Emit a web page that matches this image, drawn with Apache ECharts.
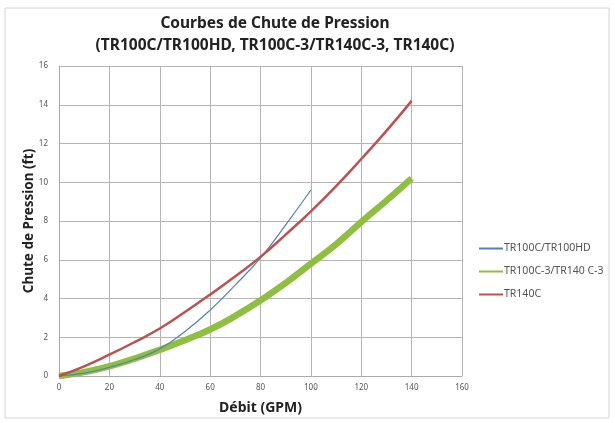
<!DOCTYPE html>
<html>
<head>
<meta charset="utf-8">
<script src="https://cdn.jsdelivr.net/npm/echarts@6/dist/echarts.min.js"></script>
<style>
  html, body { margin: 0; padding: 0; background: #fff; }
  #chart { width: 615px; height: 423px; }
</style>
</head>
<body>
<div id="chart"></div>
<script>
// débit (GPM)
const debitX = [0, 10, 20, 30, 40, 50, 60, 70, 80, 90, 100, 110, 120, 130, 140];
const debitBlue = [0, 10, 20, 30, 40, 50, 60, 70, 80, 90, 100];
// chute de pression (ft)
const tr100c = [0, 0.15, 0.45, 0.85, 1.4, 2.3, 3.4, 4.7, 6.1, 7.8, 9.6];
const tr100c3 = [0, 0.2, 0.5, 0.9, 1.35, 1.85, 2.4, 3.1, 3.9, 4.8, 5.8, 6.8, 7.95, 9.05, 10.2];
const tr140c = [0, 0.5, 1.1, 1.75, 2.45, 3.3, 4.2, 5.15, 6.15, 7.3, 8.5, 9.8, 11.2, 12.65, 14.2];
const seriesNames = ["TR100C/TR100HD", "TR100C-3/TR140 C-3", "TR140C"];

function pairs(xs, ys) {
  return ys.map(function (y, i) { return [xs[i], y]; });
}

const font = "Noto Sans";
const myChart = echarts.init(document.getElementById("chart"));
myChart.setOption({
  animation: false,
  textStyle: { fontFamily: font },
  title: {
    text: "Courbes de Chute de Pression\n(TR100C/TR100HD, TR100C-3/TR140C-3, TR140C)",
    left: 270,
    textAlign: "center",
    top: 8,
    textStyle: { fontSize: 15.5, fontWeight: "bold", color: "#222", lineHeight: 22, fontFamily: font }
  },
  graphic: [{
    type: "rect",
    shape: { x: 5, y: 8, width: 604, height: 410 },
    style: { fill: "none", stroke: "#d4d4d4", lineWidth: 1 },
    silent: true
  }],
  legend: {
    orient: "vertical",
    left: 473,
    top: 238,
    itemGap: 12,
    itemWidth: 24,
    itemHeight: 8,
    itemStyle: { opacity: 0 },
    textStyle: { fontSize: 10.5, color: "#555", fontFamily: font, padding: [0, 0, 0, -4] },
    data: seriesNames
  },
  grid: { left: 59, right: 153, top: 66, bottom: 47 },
  xAxis: {
    type: "value",
    min: 0, max: 160, interval: 20,
    name: "Débit (GPM)",
    nameLocation: "middle",
    nameGap: 25,
    nameMoveOverlap: false,
    nameTextStyle: { fontSize: 14, fontWeight: "bold", color: "#222" },
    axisLine: { lineStyle: { color: "#aaa" } },
    axisTick: { show: false },
    axisLabel: { fontSize: 8, color: "#555", margin: 8 },
    splitLine: { show: true, lineStyle: { color: "#b5b5b5" } }
  },
  yAxis: {
    type: "value",
    min: 0, max: 16, interval: 2,
    name: "Chute de Pression (ft)",
    nameLocation: "middle",
    nameGap: 23,
    nameMoveOverlap: false,
    nameTextStyle: { fontSize: 13.5, fontWeight: "bold", color: "#222" },
    axisLine: { show: true, lineStyle: { color: "#aaa" } },
    axisTick: { show: false },
    axisLabel: { fontSize: 8, color: "#555", margin: 11 },
    splitLine: { show: true, lineStyle: { color: "#b5b5b5" } }
  },
  series: [
    {
      name: seriesNames[1],
      type: "line",
      smooth: true,
      symbol: "none",
      z: 2,
      lineStyle: { color: "#8fbf3f", width: 6.5 },
      itemStyle: { color: "#8fbf3f" },
      data: pairs(debitX, tr100c3)
    },
    {
      name: seriesNames[0],
      type: "line",
      smooth: true,
      symbol: "none",
      z: 3,
      lineStyle: { color: "#4f81bd", width: 1.2 },
      itemStyle: { color: "#4f81bd" },
      data: pairs(debitBlue, tr100c)
    },
    {
      name: seriesNames[2],
      type: "line",
      smooth: true,
      symbol: "none",
      z: 4,
      lineStyle: { color: "#c0504d", width: 2.5 },
      itemStyle: { color: "#c0504d" },
      data: pairs(debitX, tr140c)
    }
  ]
});
</script>
</body>
</html>
